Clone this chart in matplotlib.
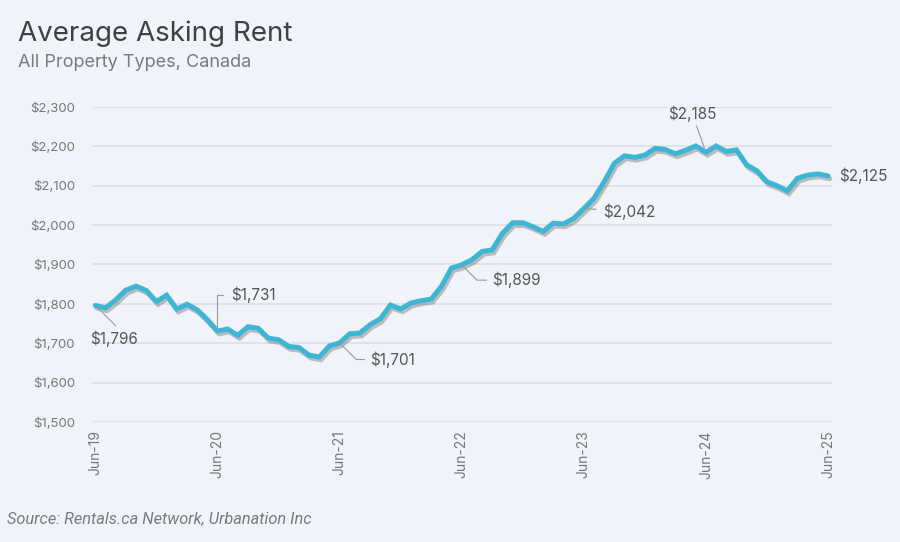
import matplotlib.pyplot as plt
import matplotlib.patheffects as pe
from matplotlib.ticker import FuncFormatter

# monthly average asking rent, Jun-2019 .. Jun-2025
rent = [
    1796, 1790, 1810, 1835, 1845, 1834, 1806, 1822, 1787, 1799, 1785, 1760,
    1731, 1736, 1720, 1742, 1738, 1713, 1709, 1692, 1689, 1670, 1665, 1693,
    1701, 1724, 1726, 1747, 1762, 1797, 1787, 1802, 1808, 1812, 1844, 1891,
    1899, 1912, 1933, 1937, 1979, 2006, 2006, 1996, 1984, 2005, 2003, 2017,
    2042, 2068, 2110, 2157, 2176, 2172, 2178, 2195, 2192, 2181, 2190, 2201,
    2185, 2201, 2187, 2191, 2153, 2138, 2110, 2100, 2087, 2119, 2127, 2130,
    2125,
]
months = list(range(len(rent)))
tick_pos = [0, 12, 24, 36, 48, 60, 72]
tick_labels = ["Jun-19", "Jun-20", "Jun-21", "Jun-22", "Jun-23", "Jun-24", "Jun-25"]
y_ticks = [1500, 1600, 1700, 1800, 1900, 2000, 2100, 2200, 2300]

# annotated points: (month index, text offset in points, leader style)
callouts = [
    (0, (-4, -24), "diag"),
    (12, (10, 26), "up"),
    (24, (22, -12), "diag"),
    (36, (22, -11), "diag"),
    (48, (14, -2), "flat"),
    (60, (-10, 22), "upleft"),
]

BG = "#f0f3f9"
LINE = "#3db6d4"
plt.rcParams["font.family"] = ["Inter", "DejaVu Sans"]

fig = plt.figure(figsize=(9, 5.42), dpi=100, facecolor=BG)
ax = fig.add_axes([0.102, 0.2214, 0.822, 0.5812], facecolor=BG)

ax.plot(months, rent, color=LINE, linewidth=3.6, solid_joinstyle="miter",
        solid_capstyle="round", clip_on=False,
        path_effects=[pe.SimpleLineShadow(offset=(1.2, -2.0), shadow_color="#555555", alpha=0.35),
                      pe.Normal()])

ax.set_ylim(1500, 2300)
ax.set_xlim(-0.35, 72.35)
ax.set_yticks(y_ticks)
ax.yaxis.set_major_formatter(FuncFormatter(lambda v, p: f"${int(v):,}"))
ax.set_xticks(tick_pos)
ax.set_xticklabels(tick_labels, rotation=90)
ax.grid(axis="y", color="#dcdfe4", linewidth=1.2)
ax.set_axisbelow(True)
for s in ax.spines.values():
    s.set_visible(False)
ax.tick_params(axis="both", length=0, colors="#777777", labelsize=9.5)
ax.tick_params(axis="x", pad=6, labelsize=10)
ax.tick_params(axis="y", pad=12)

arrow_kw = dict(arrowstyle="-", color="#999999", lw=0.8)
for idx, off, style in callouts:
    val = rent[idx]
    label = f"${val:,}"
    if style == "diag":
        ax.annotate(label, xy=(idx, val), xytext=off, textcoords="offset points",
                    fontsize=11, color="#555555", ha="left", va="center",
                    arrowprops=dict(arrow_kw, connectionstyle="angle,angleA=0,angleB=-45,rad=0",
                                    shrinkA=2, shrinkB=0))
    elif style == "up":
        ax.annotate(label, xy=(idx, val), xytext=off, textcoords="offset points",
                    fontsize=11, color="#555555", ha="left", va="center",
                    arrowprops=dict(arrow_kw, connectionstyle="angle,angleA=0,angleB=90,rad=0",
                                    shrinkA=4, shrinkB=0))
    elif style == "flat":
        ax.annotate(label, xy=(idx, val), xytext=off, textcoords="offset points",
                    fontsize=11, color="#555555", ha="left", va="center",
                    arrowprops=dict(arrow_kw, shrinkA=3, shrinkB=2))
    else:
        ax.annotate(label, xy=(idx, val), xytext=off, textcoords="offset points",
                    fontsize=11, color="#555555", ha="center", va="bottom",
                    arrowprops=dict(arrow_kw, shrinkA=1, shrinkB=3))

ax.annotate(f"${rent[-1]:,}", xy=(months[-1], rent[-1]), xytext=(8, 0),
            textcoords="offset points", fontsize=11, color="#555555",
            ha="left", va="center")

fig.text(0.02, 0.937, "Average Asking Rent", fontsize=20, color="#404040", va="center")
fig.text(0.02, 0.885, "All Property Types, Canada", fontsize=13, color="#7a7a7a", va="center")
fig.text(0.008, 0.042, "Source: Rentals.ca Network, Urbanation Inc", fontsize=11.8,
         color="#7a7a7a", style="italic", family=["Roboto", "DejaVu Sans"], va="center")

fig.savefig("out.png", dpi=100, facecolor=BG)
